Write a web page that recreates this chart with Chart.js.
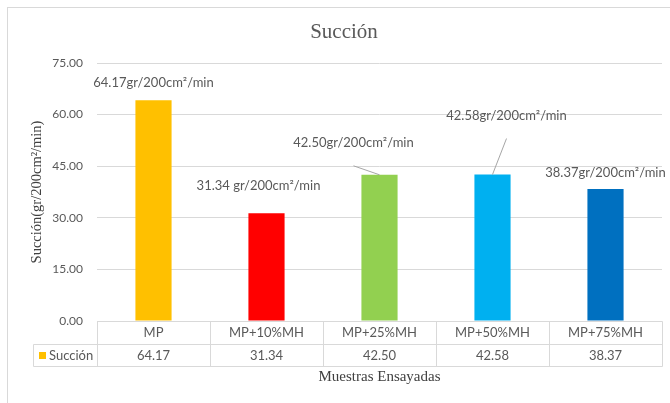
<!DOCTYPE html>
<html>
<head>
<meta charset="utf-8">
<script src="https://cdn.jsdelivr.net/npm/chart.js@4.4.0/dist/chart.umd.min.js"></script>
<style>
  html, body { margin: 0; padding: 0; background: #fff; }
  #wrap { width: 670px; height: 403px; position: relative; }
</style>
</head>
<body>
<div id="wrap"><canvas id="succionChart"></canvas></div>
<script>
var muestras = ['MP', 'MP+10%MH', 'MP+25%MH', 'MP+50%MH', 'MP+75%MH'];
var succion = [64.17, 31.34, 42.50, 42.58, 38.37];
var unidades = ['gr/200cm²/min', ' gr/200cm²/min', 'gr/200cm²/min', 'gr/200cm²/min', 'gr/200cm²/min'];
var yTicks = [0, 15, 30, 45, 60, 75];
var colores = ['#FFC000', '#FF0000', '#92D050', '#00B0F0', '#0070C0'];
// where each value label sits, relative to the top of its bar
var posEtiquetas = [[0, -17], [-8, -27], [-26, -32], [14, -59], [0, -16]];

var titulo = 'Succión';
var gris = '#595959';
var linea = '#D9D9D9';
var sans = 'Lato, "Open Sans", sans-serif';
var serif = '"Liberation Serif", "DejaVu Serif", serif';
var filaAlto = 22.5;

// white background, light frame and the chart title
var marco = {
  id: 'marco',
  beforeDraw: function (chart) {
    var c = chart.ctx;
    c.save();
    c.fillStyle = '#fff';
    c.fillRect(0, 0, chart.width, chart.height);
    c.strokeStyle = linea;
    c.lineWidth = 1;
    c.strokeRect(7.5, 7.5, chart.width + 20, chart.height + 20);
    c.font = '21px ' + serif;
    c.fillStyle = gris;
    c.textAlign = 'center';
    c.textBaseline = 'middle';
    c.fillText(titulo, 344, 32);
    c.restore();
  }
};

// value labels above the bars, with a leader line when moved away
var etiquetas = {
  id: 'etiquetas',
  afterDatasetsDraw: function (chart) {
    var c = chart.ctx;
    var meta = chart.getDatasetMeta(0);
    c.save();
    c.font = '13px ' + sans;
    c.fillStyle = gris;
    c.textAlign = 'center';
    c.textBaseline = 'middle';
    meta.data.forEach(function (bar, i) {
      var lx = bar.x + posEtiquetas[i][0];
      var ly = bar.y + posEtiquetas[i][1];
      c.fillText(succion[i].toFixed(2) + unidades[i], lx, ly);
      var sy = ly + 23;
      if (Math.hypot(bar.x - lx, bar.y - sy) > 15) {
        c.strokeStyle = '#A6A6A6';
        c.lineWidth = 1;
        c.beginPath();
        c.moveTo(lx, sy);
        c.lineTo(bar.x, bar.y);
        c.stroke();
      }
    });
    c.restore();
  }
};

// data table under the plot: categories, then values with legend key
var tabla = {
  id: 'tabla',
  afterDraw: function (chart) {
    var c = chart.ctx, x = chart.scales.x, a = chart.chartArea;
    var paso = (a.right - a.left) / muestras.length;
    var y0 = Math.round(a.bottom) + 0.5;
    var y1 = Math.round(a.bottom + filaAlto) + 0.5;
    var y2 = Math.round(a.bottom + 2 * filaAlto) + 0.5;
    var izq = 33.5;
    var bordes = [];
    for (var i = 0; i <= muestras.length; i++) {
      bordes.push(Math.round(x.getPixelForValue(0) - paso / 2 + i * paso) + 0.5);
    }
    var der = bordes[bordes.length - 1];

    c.save();
    c.strokeStyle = linea;
    c.lineWidth = 1;
    c.beginPath();
    c.moveTo(bordes[0], y0); c.lineTo(der, y0);
    c.moveTo(izq, y1); c.lineTo(der, y1);
    c.moveTo(izq, y2); c.lineTo(der, y2);
    bordes.forEach(function (bx) { c.moveTo(bx, y0); c.lineTo(bx, y2); });
    c.moveTo(izq, y1); c.lineTo(izq, y2);
    c.stroke();

    c.font = '13px ' + sans;
    c.fillStyle = gris;
    c.textAlign = 'center';
    c.textBaseline = 'middle';
    muestras.forEach(function (m, i) {
      var cx = x.getPixelForValue(i);
      c.fillText(m, cx, (y0 + y1) / 2);
      c.fillText(succion[i].toFixed(2), cx, (y1 + y2) / 2);
    });

    c.fillStyle = colores[0];
    c.fillRect(39, Math.round((y1 + y2) / 2) - 4, 7, 7);
    c.fillStyle = gris;
    c.textAlign = 'left';
    c.fillText(chart.data.datasets[0].label, 49, (y1 + y2) / 2);
    c.restore();
  }
};

new Chart(document.getElementById('succionChart'), {
  type: 'bar',
  data: {
    labels: muestras,
    datasets: [{
      label: 'Succión',
      data: succion,
      backgroundColor: colores,
      categoryPercentage: 1,
      barPercentage: 0.32
    }]
  },
  options: {
    responsive: true,
    maintainAspectRatio: false,
    animation: false,
    layout: { padding: { left: 8, right: 8, top: 63, bottom: 0 } },
    plugins: {
      legend: { display: false },
      tooltip: { enabled: false }
    },
    scales: {
      x: {
        grid: { display: false, drawTicks: false },
        border: { display: false },
        ticks: { display: false },
        title: {
          display: true,
          text: 'Muestras Ensayadas',
          color: '#404040',
          font: { family: serif, size: 15 },
          padding: { top: 47, bottom: 17 }
        }
      },
      y: {
        min: 0,
        max: 75,
        afterBuildTicks: function (s) {
          s.ticks = yTicks.map(function (v) { return { value: v }; });
        },
        afterFit: function (s) { s.width = 89; },
        grid: { color: linea, drawTicks: false },
        border: { display: false },
        ticks: {
          color: gris,
          font: { family: sans, size: 12 },
          padding: 14,
          callback: function (v) { return Number(v).toFixed(2); }
        },
        title: {
          display: true,
          text: 'Succión(gr/200cm²/min)',
          color: '#404040',
          font: { family: serif, size: 14.5 },
          padding: { top: 20, bottom: 0 }
        }
      }
    }
  },
  plugins: [marco, etiquetas, tabla]
});
</script>
</body>
</html>
